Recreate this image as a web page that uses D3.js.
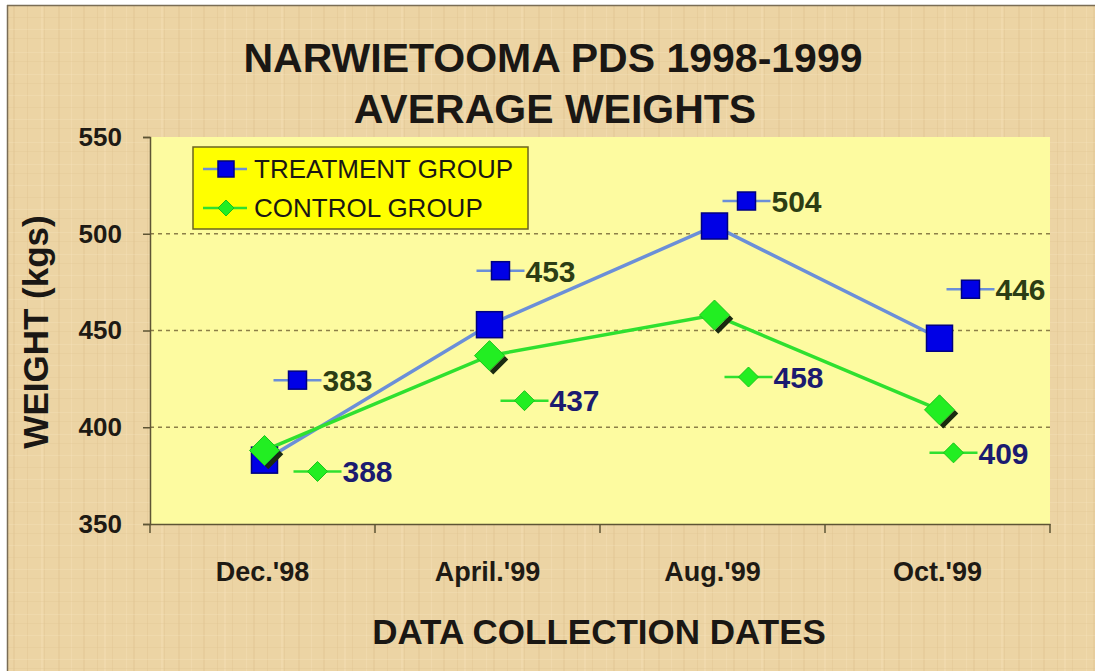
<!DOCTYPE html>
<html>
<head>
<meta charset="utf-8">
<script src="https://cdn.jsdelivr.net/npm/d3@7"></script>
<style>
  body { margin: 0; background: #fff; }
  svg text { font-family: "Liberation Sans", Arial, sans-serif; }
</style>
</head>
<body>
<svg id="chart" width="1095" height="671"></svg>
<script>
// data
let dates = ["Dec.'98", "April.'99", "Aug.'99", "Oct.'99"]
let treatment = [383, 453, 504, 446]
let control = [388, 437, 458, 409]
let yTicks = [350, 400, 450, 500, 550]

// where the excel data labels were dragged to (px from the point)
let treatmentLabelOffsets = [[33, -80], [11, -54], [32, -25], [31, -49]]
let controlLabelOffsets = [[53, 21], [35, 45], [34, 62], [14, 43]]

let width = 1095
let height = 671
let plot = {left: 150, right: 1050, top: 137, bottom: 524}
let font = '"Liberation Sans", Arial, sans-serif'

let svg = d3.select('#chart')
let defs = svg.append('defs')

// rough woven paper look for the backdrop
let pat = defs.append('pattern')
  .attr('id', 'paper')
  .attr('patternUnits', 'userSpaceOnUse')
  .attr('width', 120)
  .attr('height', 90)
pat.append('rect').attr('width', 120).attr('height', 90).attr('fill', '#ecd4a4')
let vLines = [6, 13, 27, 41, 44, 58, 71, 83, 97, 104, 112]
let hLines = [5, 17, 29, 38, 52, 61, 74, 83]
vLines.forEach((x, i) => {
  pat.append('rect').attr('x', x).attr('y', 0).attr('width', 1 + i % 2).attr('height', 90)
    .attr('fill', i % 3 ? '#dcbf8c' : '#f6e3bb').attr('opacity', 0.35)
})
hLines.forEach((y, i) => {
  pat.append('rect').attr('x', 0).attr('y', y).attr('width', 120).attr('height', 1)
    .attr('fill', i % 2 ? '#dec393' : '#f7e6c2').attr('opacity', 0.3)
})

svg.append('rect')
  .attr('x', 7).attr('y', 5)
  .attr('width', width - 7).attr('height', height - 5)
  .attr('fill', 'url(#paper)')
svg.append('line').attr('x1', 7).attr('x2', width).attr('y1', 5.5).attr('y2', 5.5)
  .attr('stroke', '#7a6d55').attr('stroke-width', 1.5)
svg.append('line').attr('x1', 7.5).attr('x2', 7.5).attr('y1', 5).attr('y2', height)
  .attr('stroke', '#7a6d55').attr('stroke-width', 1.5)

let x = d3.scaleBand()
  .domain(dates)
  .range([plot.left, plot.right])

let y = d3.scaleLinear()
  .domain([350, 550])
  .range([plot.bottom, plot.top])

let cx = d => x(d) + x.bandwidth() / 2 + 2

svg.append('rect')
  .attr('x', plot.left).attr('y', plot.top)
  .attr('width', plot.right - plot.left).attr('height', plot.bottom - plot.top)
  .attr('fill', '#fdfba0')

// gridlines
svg.append('g')
  .selectAll('line')
  .data(yTicks.filter(t => t > 350 && t < 550))
  .enter()
  .append('line')
  .attr('x1', plot.left).attr('x2', plot.right)
  .attr('y1', d => y(d)).attr('y2', d => y(d))
  .attr('stroke', '#8c7f48')
  .attr('stroke-width', 1.5)
  .attr('stroke-dasharray', '4,4')

// axes
let yAxis = svg.append('g')
  .attr('transform', `translate(${plot.left},0)`)
  .call(d3.axisLeft(y).tickValues(yTicks).tickSize(7).tickPadding(21))
yAxis.select('.domain').attr('stroke', '#5e5434').attr('stroke-width', 1.5)
yAxis.selectAll('.tick line').attr('stroke', '#5e5434').attr('stroke-width', 1.5)
yAxis.selectAll('.tick text')
  .attr('font-size', 26).attr('font-weight', 'bold').attr('fill', '#1e1a14')
  .attr('font-family', font)

let xAxis = svg.append('g')
  .attr('transform', `translate(0,${plot.bottom})`)
  .call(d3.axisBottom(x).tickSize(0).tickPadding(38))
xAxis.select('.domain').attr('stroke', '#5e5434').attr('stroke-width', 1.5)
xAxis.selectAll('.tick text')
  .attr('font-size', 27).attr('font-weight', 'bold').attr('fill', '#1e1a14')
  .attr('font-family', font)

// category separators below the axis
let seps = dates.map(d => x(d)).concat([plot.right])
svg.append('g')
  .selectAll('line')
  .data(seps)
  .enter()
  .append('line')
  .attr('x1', d => d).attr('x2', d => d)
  .attr('y1', plot.bottom).attr('y2', plot.bottom + 9)
  .attr('stroke', '#5e5434').attr('stroke-width', 1.5)

// titles
svg.append('text')
  .attr('x', 553).attr('y', 72)
  .attr('text-anchor', 'middle')
  .attr('font-size', 41).attr('font-weight', 'bold').attr('fill', '#1a1714')
  .text('NARWIETOOMA PDS 1998-1999')
svg.append('text')
  .attr('x', 555).attr('y', 123)
  .attr('text-anchor', 'middle')
  .attr('font-size', 41).attr('font-weight', 'bold').attr('fill', '#1a1714')
  .text('AVERAGE WEIGHTS')

svg.append('text')
  .attr('x', 599).attr('y', 644)
  .attr('text-anchor', 'middle')
  .attr('font-size', 35).attr('font-weight', 'bold').attr('fill', '#1a1714')
  .text('DATA COLLECTION DATES')

svg.append('text')
  .attr('transform', 'translate(48,332) rotate(-90)')
  .attr('text-anchor', 'middle')
  .attr('font-size', 35).attr('font-weight', 'bold').attr('fill', '#1a1714')
  .text('WEIGHT (kgs)')

// series lines
let line = d3.line()
  .x((d, i) => cx(dates[i]))
  .y(d => y(d))

svg.append('path')
  .datum(treatment)
  .attr('d', line)
  .attr('fill', 'none')
  .attr('stroke', '#6b8fd8')
  .attr('stroke-width', 3.5)

svg.append('path')
  .datum(control)
  .attr('d', line)
  .attr('fill', 'none')
  .attr('stroke', '#2fe02f')
  .attr('stroke-width', 3.5)

let square = (g, s) => g.append('rect')
  .attr('x', -s / 2).attr('y', -s / 2)
  .attr('width', s).attr('height', s)
  .attr('fill', '#0000e6')
  .attr('stroke', '#000080')
  .attr('stroke-width', 1.5)

let diamond = (g, s, shadow) => {
  if (shadow) {
    g.append('path')
      .attr('d', `M${s / 2 + 2},2 L2,${s / 2 + 2}`)
      .attr('stroke', '#1a2a10').attr('stroke-width', 5)
  }
  g.append('path')
    .attr('d', `M0,${-s / 2} L${s / 2},0 L0,${s / 2} L${-s / 2},0 Z`)
    .attr('fill', '#22ee22')
    .attr('stroke', '#19c419')
    .attr('stroke-width', 1)
}

// markers on the data
treatment.forEach((v, i) => {
  let g = svg.append('g').attr('transform', `translate(${cx(dates[i])},${y(v)})`)
  square(g, 26)
})
control.forEach((v, i) => {
  let g = svg.append('g').attr('transform', `translate(${cx(dates[i])},${y(v)})`)
  diamond(g, 30, true)
})

// data labels with their little legend keys
let dataLabel = (v, i, off, kind) => {
  let g = svg.append('g')
    .attr('transform', `translate(${cx(dates[i]) + off[0]},${y(v) + off[1]})`)
  g.append('line')
    .attr('x1', -24).attr('x2', 24)
    .attr('stroke', kind === 't' ? '#6b8fd8' : '#2fe02f')
    .attr('stroke-width', 2.5)
  if (kind === 't') square(g, 18)
  else diamond(g, 20, false)
  g.append('text')
    .attr('x', 25).attr('dy', '0.36em')
    .attr('font-size', 30).attr('font-weight', 'bold')
    .attr('fill', kind === 't' ? '#2c3d14' : '#1b1b70')
    .text(v)
}
treatment.forEach((v, i) => dataLabel(v, i, treatmentLabelOffsets[i], 't'))
control.forEach((v, i) => dataLabel(v, i, controlLabelOffsets[i], 'c'))

// legend
let legend = svg.append('g').attr('transform', 'translate(193,147)')
legend.append('rect')
  .attr('width', 335).attr('height', 82)
  .attr('fill', '#ffff00')
  .attr('stroke', '#6b6420')
  .attr('stroke-width', 1.5)

let legendItems = [
  {name: 'TREATMENT GROUP', kind: 't'},
  {name: 'CONTROL GROUP', kind: 'c'}
]
legendItems.forEach((item, i) => {
  let g = legend.append('g').attr('transform', `translate(33,${22 + i * 39})`)
  g.append('line')
    .attr('x1', -23).attr('x2', 21)
    .attr('stroke', item.kind === 't' ? '#6b8fd8' : '#2fe02f')
    .attr('stroke-width', 2.5)
  if (item.kind === 't') square(g, 16)
  else diamond(g, 16, false)
  g.append('text')
    .attr('x', 28).attr('dy', '0.36em')
    .attr('font-size', 26)
    .attr('fill', '#1a1714')
    .text(item.name)
})
</script>
</body>
</html>
